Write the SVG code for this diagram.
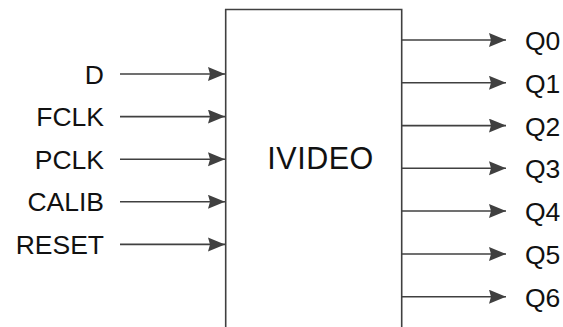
<svg xmlns="http://www.w3.org/2000/svg" width="563" height="327" viewBox="0 0 563 327">
<style>
.w{stroke:#404040;stroke-width:1.6;fill:none}
.t{font-family:"Liberation Sans",Arial,sans-serif;font-size:26.5px;fill:#111}
.l{text-anchor:end}
</style>
<defs>
<marker id="a" markerUnits="userSpaceOnUse" markerWidth="18" markerHeight="15" refX="17" refY="7" orient="auto">
<path d="M0,0 L17,7 L0,14 L2,7 Z" fill="#404040"/>
</marker>
</defs>
<rect width="563" height="327" fill="#fff"/>
<g id="ivideo">
<path class="w" d="M225.7,330 V9.5 H401.7 V330"/>
<text class="t" x="267.3" y="169.3" style="font-size:30.5px" textLength="106">IVIDEO</text>
</g>
<g id="labels">
<text class="t l" x="104" y="83.5">D</text>
<text class="t l" x="104" y="126.2">FCLK</text>
<text class="t l" x="104" y="168.8">PCLK</text>
<text class="t l" x="104" y="211.4">CALIB</text>
<text class="t l" x="104" y="254">RESET</text>
<text class="t" x="525" y="50">Q0</text>
<text class="t" x="525" y="92.8">Q1</text>
<text class="t" x="525" y="135.6">Q2</text>
<text class="t" x="525" y="178.3">Q3</text>
<text class="t" x="525" y="221">Q4</text>
<text class="t" x="525" y="264">Q5</text>
<text class="t" x="525" y="306.7">Q6</text>
</g>
<g id="connectors">
<path class="w" marker-end="url(#a)" d="M120,74 H225"/>
<path class="w" marker-end="url(#a)" d="M120,116.6 H225"/>
<path class="w" marker-end="url(#a)" d="M120,159.2 H225"/>
<path class="w" marker-end="url(#a)" d="M120,201.8 H225"/>
<path class="w" marker-end="url(#a)" d="M120,244.4 H225"/>
<path class="w" marker-end="url(#a)" d="M401.7,40 H506"/>
<path class="w" marker-end="url(#a)" d="M401.7,82.8 H506"/>
<path class="w" marker-end="url(#a)" d="M401.7,125.6 H506"/>
<path class="w" marker-end="url(#a)" d="M401.7,168.3 H506"/>
<path class="w" marker-end="url(#a)" d="M401.7,211 H506"/>
<path class="w" marker-end="url(#a)" d="M401.7,254 H506"/>
<path class="w" marker-end="url(#a)" d="M401.7,296.7 H506"/>
</g>
</svg>
